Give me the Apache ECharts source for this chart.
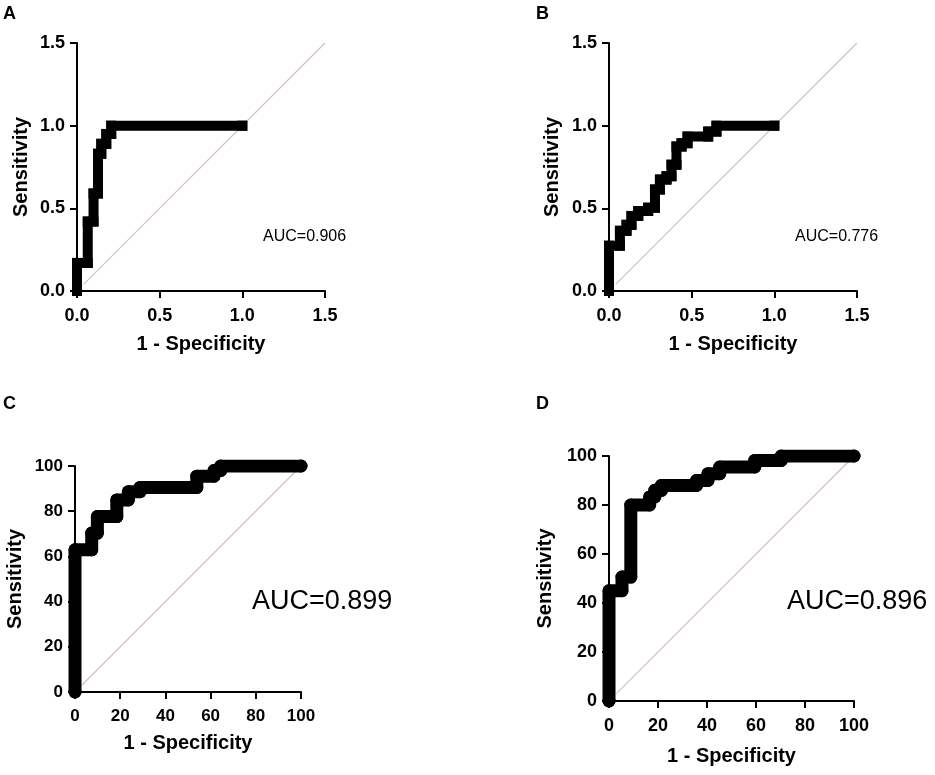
<!DOCTYPE html>
<html>
<head>
<meta charset="utf-8">
<script src="https://cdn.jsdelivr.net/npm/echarts@6/dist/echarts.min.js"></script>
<style>
  html, body { margin: 0; padding: 0; background: #fff; }
  #chart { width: 935px; height: 775px; }
</style>
</head>
<body>
<div id="chart"></div>
<script>
// ROC points (1 - specificity, sensitivity)
var aFpr  = [0, 0, 0.065, 0.065, 0.10, 0.10, 0.127, 0.127, 0.147, 0.147, 0.177, 0.177, 0.207, 0.207, 1.0];
var aSens = [0, 0.17, 0.17, 0.42, 0.42, 0.59, 0.59, 0.83, 0.83, 0.89, 0.89, 0.95, 0.95, 1.0, 1.0];

var bFpr  = [0, 0, 0.066, 0.066, 0.106, 0.106, 0.136, 0.136, 0.177, 0.177, 0.237, 0.237, 0.278, 0.278, 0.308, 0.308,
             0.348, 0.348, 0.378, 0.378, 0.408, 0.408, 0.439, 0.439, 0.475, 0.475, 0.60, 0.60, 0.65, 0.65, 1.0];
var bSens = [0, 0.274, 0.274, 0.364, 0.364, 0.40, 0.40, 0.454, 0.454, 0.484, 0.484, 0.504, 0.504, 0.614, 0.614, 0.674,
             0.674, 0.694, 0.694, 0.764, 0.764, 0.874, 0.874, 0.894, 0.894, 0.934, 0.934, 0.964, 0.964, 1.0, 1.0];

var cFpr  = [0, 0, 7.4, 7.4, 9.9, 9.9, 18.5, 18.5, 23.6, 23.6, 28.8, 28.8, 53.9, 53.9, 61.5, 61.5, 64.5, 64.5, 100];
var cSens = [0, 62.9, 62.9, 70.3, 70.3, 77.6, 77.6, 85, 85, 88.6, 88.6, 90.5, 90.5, 95.5, 95.5, 98, 98, 100, 100];

var dFpr  = [0, 0, 5.3, 5.3, 8.9, 8.9, 16.6, 16.6, 18.7, 18.7, 21.4, 21.4, 35.7, 35.7, 40.4, 40.4, 45.2, 45.2,
             59.5, 59.5, 70.3, 70.3, 100];
var dSens = [0, 45, 45, 50.6, 50.6, 80, 80, 83.3, 83.3, 86, 86, 88, 88, 90, 90, 92.8, 92.8, 95.5, 95.5,
             98.2, 98.2, 100, 100];

// reference lines
var abDiag = [[0.04, 0.04], [1.5, 1.5]];
var cdDiag = [[3, 3], [100, 100]];

// tick values
var abTicks = [0, 0.5, 1.0, 1.5];
var cdTicks = [0, 20, 40, 60, 80, 100];

var aucText = ['AUC=0.906', 'AUC=0.776', 'AUC=0.899', 'AUC=0.896'];
var letters = ['A', 'B', 'C', 'D'];

var FONT = '"Liberation Sans", Arial, sans-serif';

var panels = [
  { grid: { left: 77,  top: 43,  width: 248, height: 248 }, x: aFpr, y: aSens, ticks: abTicks, diag: abDiag, dec: 1,
    symbol: 'rect', size: 10, join: 'miter', tick: 18, xGap: 43, yGap: 46,
    auc: [263, 229, 16], letter: [3, 5] },
  { grid: { left: 609, top: 43,  width: 248, height: 248 }, x: bFpr, y: bSens, ticks: abTicks, diag: abDiag, dec: 1,
    symbol: 'rect', size: 10, join: 'miter', tick: 18, xGap: 43, yGap: 47,
    auc: [795, 229, 16], letter: [536, 5] },
  { grid: { left: 75,  top: 466, width: 226, height: 226 }, x: cFpr, y: cSens, ticks: cdTicks, diag: cdDiag, dec: 0,
    symbol: 'circle', size: 13, join: 'round', tick: 17, xGap: 41, yGap: 50,
    auc: [252, 588, 27], letter: [3, 395] },
  { grid: { left: 609, top: 456, width: 245, height: 245 }, x: dFpr, y: dSens, ticks: cdTicks, diag: cdDiag, dec: 0,
    symbol: 'circle', size: 13, join: 'round', tick: 18, xGap: 45, yGap: 54,
    auc: [787, 588, 27], letter: [536, 395] }
];

function makeAxis(p, i, name, gap, isX) {
  var t = p.ticks;
  return {
    type: 'value',
    gridIndex: i,
    min: t[0],
    max: t[t.length - 1],
    interval: t[1] - t[0],
    name: name,
    nameLocation: 'middle',
    nameGap: gap,
    nameTextStyle: { fontFamily: FONT, fontWeight: 'bold', fontSize: 20, color: '#000' },
    axisLine: { show: true, onZero: false, lineStyle: { color: '#000', width: 2 } },
    axisTick: { show: true, length: 7, lineStyle: { color: '#000', width: 2 } },
    axisLabel: {
      fontFamily: FONT, fontWeight: 'bold', fontSize: p.tick, color: '#000',
      margin: isX ? 16 : 12,
      formatter: function (v) { return v.toFixed(p.dec); }
    },
    splitLine: { show: false }
  };
}

var option = { animation: false, grid: [], xAxis: [], yAxis: [], series: [], graphic: [] };

panels.forEach(function (p, i) {
  option.grid.push(p.grid);
  option.xAxis.push(makeAxis(p, i, '1 - Specificity', p.xGap, true));
  option.yAxis.push(makeAxis(p, i, 'Sensitivity', p.yGap, false));

  option.series.push({
    type: 'line',
    xAxisIndex: i, yAxisIndex: i,
    data: p.diag,
    symbol: 'none',
    lineStyle: { color: '#d2bfc3', width: 1.2 },
    z: 1, silent: true
  });

  var pts = p.x.map(function (v, k) { return [v, p.y[k]]; });
  option.series.push({
    type: 'line',
    xAxisIndex: i, yAxisIndex: i,
    data: pts,
    symbol: p.symbol,
    symbolSize: p.size,
    showAllSymbol: true,
    itemStyle: { color: '#000' },
    lineStyle: { color: '#000', width: p.size, join: p.join, cap: p.join === 'round' ? 'round' : 'square' },
    z: 3, silent: true
  });

  option.graphic.push({
    type: 'text', left: p.auc[0], top: p.auc[1],
    style: { text: aucText[i], fontFamily: FONT, fontSize: p.auc[2], fill: '#000' }
  });
  option.graphic.push({
    type: 'text', left: p.letter[0], top: p.letter[1],
    style: { text: letters[i], fontFamily: FONT, fontWeight: 'bold', fontSize: 18, fill: '#000' }
  });
});

var chart = echarts.init(document.getElementById('chart'));
chart.setOption(option);
</script>
</body>
</html>
